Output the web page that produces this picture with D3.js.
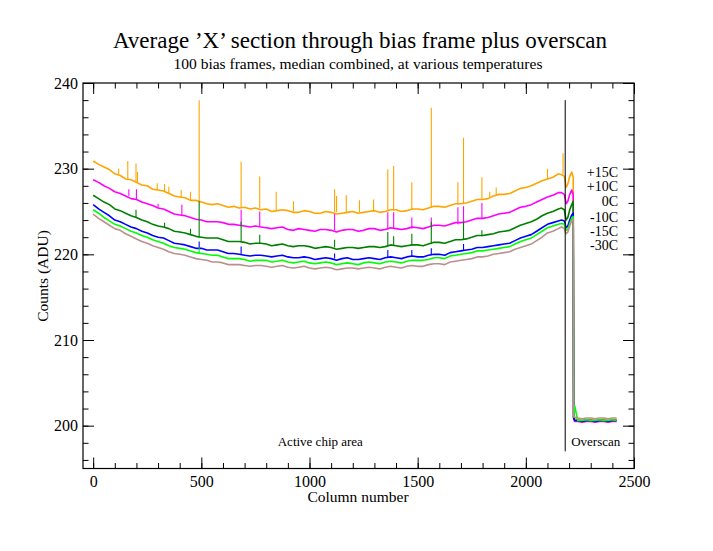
<!DOCTYPE html>
<html>
<head>
<meta charset="utf-8">
<script src="https://cdn.jsdelivr.net/npm/d3@7"></script>
<style>
  html, body { margin: 0; padding: 0; background: #fff; }
  svg { display: block; }
  text { font-family: "Liberation Serif", "Times New Roman", serif; fill: #000; }
</style>
</head>
<body>
<svg id="chart" width="713" height="551"></svg>
<script>
// ---------------- DATA ----------------
const COLUMNS = [
  0,25,50,75,100,125,150,175,200,225,
  250,275,300,325,350,375,400,425,450,475,
  500,525,550,575,600,625,650,675,700,725,
  750,775,800,825,850,875,900,925,950,975,
  1000,1025,1050,1075,1100,1125,1150,1175,1200,1225,
  1250,1275,1300,1325,1350,1375,1400,1425,1450,1475,
  1500,1525,1550,1575,1600,1625,1650,1675,1700,1725,
  1750,1775,1800,1825,1850,1875,1900,1925,1950,1975,
  2000,2025,2050,2075,2100,2125,2150,
  2165,2178,2186,2194,2203,2212,2219,
  2221,2226,2240,2260,2280,2300,2320,2340,2360,2380,2400,2420
];

const SERIES_NAMES = ["+15C", "+10C", "0C", "-10C", "-15C", "-30C"];

const VALUES_P15 = [
  230.9,230.5,230.2,229.9,229.4,229.2,228.8,228.7,228.4,228.1,
  228.0,227.6,227.5,227.4,227.1,226.8,226.7,226.6,226.3,226.3,
  226.1,225.9,225.8,225.9,225.7,225.5,225.6,225.4,225.5,225.3,
  225.4,225.2,225.3,225.0,225.1,225.2,225.1,224.9,224.9,225.1,
  225.0,224.8,224.8,225.0,224.9,224.7,224.8,224.9,225.0,224.8,
  224.9,225.0,225.1,224.9,225.0,225.2,225.2,225.0,225.1,225.3,
  225.3,225.2,225.4,225.6,225.6,225.5,225.7,225.9,225.9,226.0,
  226.2,226.4,226.4,226.5,226.8,227.0,227.0,227.1,227.4,227.7,
  227.8,228.0,228.3,228.6,228.8,229.0,229.4,
  229.3,229.1,227.8,228.2,229.1,229.6,229.0,
  201.0,200.8,200.7,200.6,200.7,200.7,200.6,200.7,200.7,200.6,200.7,200.7
];
const VALUES_P10 = [
  228.7,228.4,228.0,227.7,227.3,227.1,226.8,226.5,226.4,226.1,
  225.9,225.7,225.4,225.3,225.0,224.7,224.6,224.5,224.3,224.1,
  224.0,223.8,223.8,223.8,223.7,223.5,223.5,223.4,223.3,223.2,
  223.3,223.2,223.1,223.0,223.1,223.2,222.9,222.8,223.0,222.9,
  222.8,222.7,222.9,222.9,222.8,222.6,222.8,222.9,222.9,222.7,
  222.8,223.0,223.0,222.8,222.9,223.1,223.0,222.9,223.0,223.2,
  223.1,223.0,223.2,223.4,223.4,223.3,223.5,223.7,223.7,223.8,
  224.0,224.2,224.2,224.3,224.5,224.7,224.8,224.9,225.2,225.5,
  225.6,225.8,226.1,226.4,226.7,226.9,227.2,
  227.2,227.0,225.9,226.2,227.0,227.5,227.0,
  200.8,200.5,200.5,200.4,200.5,200.5,200.4,200.5,200.5,200.4,200.5,200.5
];
const VALUES_0 = [
  226.9,226.5,226.1,225.8,225.3,225.1,224.8,224.5,224.3,224.0,
  223.8,223.5,223.3,223.2,223.0,222.7,222.6,222.5,222.3,222.1,
  222.0,221.9,221.9,221.9,221.7,221.5,221.5,221.5,221.4,221.2,
  221.3,221.3,221.2,221.0,221.1,221.2,221.0,220.9,221.0,221.0,
  220.9,220.7,220.8,220.9,220.8,220.6,220.7,220.8,220.8,220.7,
  220.8,220.9,220.9,220.8,220.9,221.1,221.0,220.9,221.0,221.1,
  221.1,221.0,221.2,221.4,221.4,221.3,221.5,221.7,221.7,221.8,
  222.0,222.2,222.2,222.3,222.4,222.6,222.7,222.8,223.1,223.4,
  223.6,223.8,224.1,224.5,224.8,225.0,225.3,
  225.4,225.2,224.0,224.3,225.2,225.8,226.2,
  200.9,200.6,200.6,200.6,200.6,200.6,200.6,200.6,200.6,200.6,200.6,200.6
];
const VALUES_M10 = [
  225.8,225.3,224.9,224.5,224.0,223.8,223.5,223.2,223.0,222.7,
  222.5,222.2,222.0,221.9,221.6,221.3,221.2,221.1,220.9,220.7,
  220.7,220.5,220.5,220.5,220.3,220.1,220.1,220.0,219.9,219.8,
  219.9,219.9,219.8,219.7,219.8,219.9,219.7,219.6,219.6,219.7,
  219.6,219.4,219.5,219.6,219.5,219.3,219.5,219.6,219.4,219.4,
  219.5,219.6,219.5,219.4,219.6,219.7,219.6,219.5,219.7,219.8,
  219.7,219.7,219.9,220.0,220.0,219.9,220.2,220.3,220.4,220.5,
  220.6,220.8,220.8,220.9,221.0,221.1,221.2,221.3,221.6,221.9,
  222.1,222.3,222.7,223.1,223.5,223.7,223.9,
  224.0,223.9,223.1,223.3,224.0,224.6,224.8,
  200.9,200.6,200.6,200.5,200.6,200.6,200.5,200.6,200.6,200.5,200.6,200.6
];
const VALUES_M15 = [
  225.2,224.8,224.3,223.9,223.5,223.3,223.0,222.7,222.5,222.2,
  222.0,221.7,221.5,221.3,221.0,220.8,220.7,220.6,220.4,220.2,
  220.1,220.0,219.9,219.9,219.7,219.5,219.5,219.5,219.4,219.2,
  219.3,219.3,219.3,219.1,219.2,219.3,219.1,219.0,219.1,219.2,
  219.0,218.9,219.0,219.1,219.0,218.8,218.9,219.0,218.9,218.8,
  219.0,219.1,219.0,218.9,219.1,219.2,219.1,219.0,219.2,219.3,
  219.3,219.3,219.4,219.6,219.6,219.5,219.8,219.9,220.0,220.1,
  220.2,220.4,220.4,220.5,220.6,220.7,220.8,220.9,221.2,221.5,
  221.7,221.9,222.3,222.7,223.1,223.3,223.5,
  223.6,223.5,222.8,222.9,223.6,224.2,224.4,
  201.0,202.3,200.6,200.6,200.7,200.6,200.6,200.7,200.6,200.6,200.7,200.6
];
const VALUES_M30 = [
  224.7,224.2,223.8,223.4,223.0,222.8,222.4,222.1,221.8,221.5,
  221.3,221.0,220.8,220.6,220.3,220.1,220.0,219.9,219.7,219.5,
  219.4,219.3,219.1,219.1,219.0,218.8,218.8,218.8,218.7,218.6,
  218.7,218.7,218.6,218.5,218.6,218.7,218.5,218.4,218.5,218.6,
  218.4,218.3,218.4,218.5,218.4,218.2,218.3,218.4,218.4,218.3,
  218.4,218.5,218.4,218.3,218.5,218.6,218.5,218.4,218.6,218.7,
  218.6,218.6,218.8,218.9,218.9,218.8,219.1,219.2,219.3,219.4,
  219.5,219.7,219.7,219.8,220.0,220.1,220.2,220.3,220.6,220.8,
  221.0,221.2,221.6,222.0,222.5,222.7,223.0,
  223.2,223.0,222.4,222.6,223.3,223.9,224.1,
  201.2,201.0,200.9,200.8,200.9,200.9,200.8,200.9,200.9,200.8,200.9,200.9
];

// hot-column spikes: [column, baseline level, peak level]
const SPIKES_P15 = [
  [118,229.3,230.0],[160,228.8,230.9],[198,228.4,230.6],[205,228.3,229.6],[296,227.5,228.3],
  [330,227.3,228.2],[350,227.1,227.9],[407,226.7,227.5],[450,226.3,227.3],[490,226.1,238.0],
  [684,225.5,230.8],[770,225.4,229.1],[846,225.1,227.3],[926,225.0,226.2],[1116,224.9,227.6],
  [1125,224.9,226.8],[1170,224.8,226.9],[1231,224.9,226.3],[1296,225.0,226.4],[1362,225.1,229.9],
  [1389,225.1,230.3],[1473,225.2,228.4],[1563,225.4,237.1],[1686,225.8,228.4],[1712,225.9,233.6],
  [1797,226.4,229.0],[1833,226.6,227.3],[1863,226.8,227.8],[2100,228.8,230.0],[2172,229.3,231.8]
];
const SPIKES_P10 = [
  [165,226.8,227.6],[200,226.4,227.6],[300,225.4,225.9],[410,224.6,225.8],[684,223.3,225.2],
  [770,223.3,225.0],[1116,222.8,224.7],[1362,222.9,224.9],[1389,223.0,224.9],[1473,223.0,224.3],
  [1563,223.2,224.3],[1686,223.5,225.5],[1712,223.6,225.6],[1797,224.1,226.0]
];
const SPIKES_0 = [
  [198,224.3,225.2],[330,223.1,223.7],[450,222.3,223.0],[490,222.0,226.2],[684,221.4,223.8],
  [770,221.3,222.3],[1116,220.8,221.7],[1362,220.9,222.6],[1389,221.0,222.1],[1473,221.0,222.4],
  [1563,221.2,223.8],[1712,221.7,223.8],[1797,222.1,222.8]
];
const SPIKES_M10 = [
  [490,220.8,221.5],[684,220.0,220.9],[1116,219.5,220.1],[1362,219.6,220.5],[1473,219.7,220.5],
  [1563,219.9,220.7],[1712,220.4,221.2]
];
const SPIKES_M15 = [[490,220.1,220.7]];
const SPIKES_M30 = [];

const X_MAJOR_TICKS = [0, 500, 1000, 1500, 2000, 2500];
const X_MINOR_TICKS = [0,100,200,300,400,500,600,700,800,900,1000,1100,1200,1300,1400,1500,
                       1600,1700,1800,1900,2000,2100,2200,2300,2400,2500];
const Y_MAJOR_TICKS = [200, 210, 220, 230, 240];
const Y_MINOR_TICKS = [196,198,200,202,204,206,208,210,212,214,216,218,220,222,224,226,228,230,
                       232,234,236,238,240];

const TITLE = "Average \u2019X\u2019 section through bias frame plus overscan";
const SUBTITLE = "100 bias frames, median combined, at various temperatures";
const X_LABEL = "Column number";
const Y_LABEL = "Counts (ADU)";
const DIVIDER_COLUMN = 2182;
const DIVIDER_RANGE = [197, 238];

// ---------------- LAYOUT / STYLE ----------------
const COLORS = ["#FFA500", "#FF00FF", "#008000", "#0000FF", "#00FF00", "#BC8F8F"];
const seriesValues = [VALUES_P15, VALUES_P10, VALUES_0, VALUES_M10, VALUES_M15, VALUES_M30];
const seriesSpikes = [SPIKES_P15, SPIKES_P10, SPIKES_0, SPIKES_M10, SPIKES_M15, SPIKES_M30];

const L = 83, R = 634, T = 83, B = 468.5;
const svg = d3.select("#chart");

const x = d3.scaleLinear().domain([-47, 2500]).range([L, R]);
const y = d3.scaleLinear().domain([195, 240]).range([B, T]);

// title
svg.append("text").attr("x", 360).attr("y", 48).attr("text-anchor", "middle")
  .style("font-size", "23px").text(TITLE);
svg.append("text").attr("x", 358).attr("y", 69).attr("text-anchor", "middle")
  .style("font-size", "15.5px").text(SUBTITLE);

// clip
svg.append("defs").append("clipPath").attr("id", "plotclip")
  .append("rect").attr("x", L).attr("y", T).attr("width", R - L).attr("height", B - T);

const plot = svg.append("g").attr("clip-path", "url(#plotclip)");

const line = d3.line().x(d => x(d[0])).y(d => y(d[1]));

seriesValues.forEach((vals, i) => {
  const pts = COLUMNS.map((c, k) => [c, vals[k]]);
  plot.append("path").datum(pts)
    .attr("fill", "none").attr("stroke", COLORS[i])
    .attr("stroke-width", 1.6).attr("stroke-linejoin", "round")
    .attr("d", line);
  plot.selectAll(null).data(seriesSpikes[i]).enter().append("line")
    .attr("x1", d => x(d[0])).attr("x2", d => x(d[0]))
    .attr("y1", d => y(d[1])).attr("y2", d => y(d[2]))
    .attr("stroke", COLORS[i]).attr("stroke-width", 1.1);
});

// divider line
svg.append("line")
  .attr("x1", x(DIVIDER_COLUMN)).attr("x2", x(DIVIDER_COLUMN))
  .attr("y1", y(DIVIDER_RANGE[1])).attr("y2", y(DIVIDER_RANGE[0]))
  .attr("stroke", "#000").attr("stroke-width", 1);

// annotations
svg.append("text").attr("x", x(1050)).attr("y", 446).attr("text-anchor", "middle")
  .style("font-size", "13px").text("Active chip area");
svg.append("text").attr("x", x(DIVIDER_COLUMN) + 6).attr("y", 446)
  .style("font-size", "13px").text("Overscan");

// legend labels
const legendBaselines = [177, 191, 206, 222, 236, 250];
SERIES_NAMES.forEach((n, i) => {
  svg.append("text").attr("x", 618).attr("y", legendBaselines[i]).attr("text-anchor", "end")
    .style("font-size", "14px").text(n);
});

// axes
function styleAxis(g) {
  g.select(".domain").remove();
  g.selectAll(".tick line").attr("stroke", "#000").attr("stroke-width", 1);
  g.selectAll(".tick text").style("font-family", "Liberation Serif").style("font-size", "16px").attr("fill", "#000");
}
svg.append("g").attr("transform", `translate(0,${B})`)
  .call(d3.axisBottom(x).tickValues(X_MINOR_TICKS).tickSize(-5.5).tickFormat(""))
  .call(styleAxis);
svg.append("g").attr("transform", `translate(0,${B})`)
  .call(d3.axisBottom(x).tickValues(X_MAJOR_TICKS).tickSize(-11).tickPadding(7).tickFormat(d3.format("d")))
  .call(styleAxis);
svg.append("g").attr("transform", `translate(0,${T})`)
  .call(d3.axisTop(x).tickValues(X_MINOR_TICKS).tickSize(-5.5).tickFormat(""))
  .call(styleAxis);
svg.append("g").attr("transform", `translate(0,${T})`)
  .call(d3.axisTop(x).tickValues(X_MAJOR_TICKS).tickSize(-11).tickFormat(""))
  .call(styleAxis);
svg.append("g").attr("transform", `translate(${L},0)`)
  .call(d3.axisLeft(y).tickValues(Y_MINOR_TICKS).tickSize(-5.5).tickFormat(""))
  .call(styleAxis);
svg.append("g").attr("transform", `translate(${L},0)`)
  .call(d3.axisLeft(y).tickValues(Y_MAJOR_TICKS).tickSize(-11).tickPadding(5).tickFormat(d3.format("d")))
  .call(styleAxis);
svg.append("g").attr("transform", `translate(${R},0)`)
  .call(d3.axisRight(y).tickValues(Y_MINOR_TICKS).tickSize(-5.5).tickFormat(""))
  .call(styleAxis);
svg.append("g").attr("transform", `translate(${R},0)`)
  .call(d3.axisRight(y).tickValues(Y_MAJOR_TICKS).tickSize(-11).tickFormat(""))
  .call(styleAxis);

// frame
svg.append("rect").attr("x", L).attr("y", T).attr("width", R - L).attr("height", B - T)
  .attr("fill", "none").attr("stroke", "#000").attr("stroke-width", 1.2);

// axis titles
svg.append("text").attr("x", 358).attr("y", 502).attr("text-anchor", "middle")
  .style("font-size", "15.5px").text(X_LABEL);
svg.append("text").attr("transform", "translate(48,276) rotate(-90)").attr("text-anchor", "middle")
  .style("font-size", "15.5px").text(Y_LABEL);
</script>
</body>
</html>
